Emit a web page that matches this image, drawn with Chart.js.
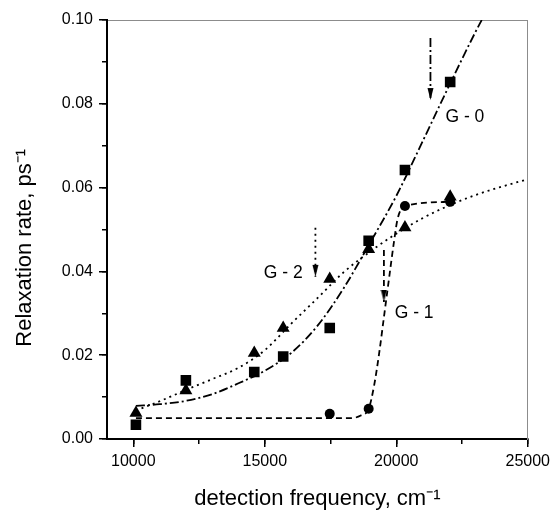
<!DOCTYPE html>
<html>
<head>
<meta charset="utf-8">
<script src="https://cdn.jsdelivr.net/npm/chart.js@4.4.1/dist/chart.umd.min.js"></script>
<style>
  html, body { margin: 0; padding: 0; background: #fff; }
  canvas { display: block; }
</style>
</head>
<body>
<canvas id="relaxChart" width="555" height="510"></canvas>
<script>
'use strict';

/* ── measured rates (ps-1) vs detection frequency (cm-1) ── */
const g0Freq = [10100, 12000, 14600, 15700, 17470, 18950, 20330, 22050];
const g0Rate = [0.0034, 0.0140, 0.0160, 0.0197, 0.0265, 0.0473, 0.0642, 0.0852];

const g2Freq = [10100, 12000, 14600, 15700, 17470, 18950, 20330, 22050];
const g2Rate = [0.0062, 0.0116, 0.0205, 0.0265, 0.0382, 0.0453, 0.0505, 0.0578];

const g1Freq = [17470, 18950, 20330, 22050];
const g1Rate = [0.0060, 0.0072, 0.0556, 0.0566];

/* ── fitted curves ── */
const g0FitFreq = [10100, 11000, 12000, 13000, 14000, 15000, 16000, 17000, 18000, 19000, 20000, 21000, 22000, 23000, 23250];
const g0FitRate = [0.0079, 0.0083, 0.0091, 0.0107, 0.0133, 0.0163, 0.0205, 0.0270, 0.0360, 0.0468, 0.0580, 0.0710, 0.0842, 0.0970, 0.1000];

const g2FitFreq = [10100, 11000, 12000, 13000, 14000, 15000, 16000, 17000, 18000, 19000, 20000, 21000, 22000, 23000, 24000, 25000];
const g2FitRate = [0.0068, 0.0090, 0.0117, 0.0143, 0.0170, 0.0212, 0.0275, 0.0336, 0.0398, 0.0447, 0.0490, 0.0527, 0.0557, 0.0582, 0.0602, 0.0620];

const g1FitFreq = [10100, 18300, 18650, 18950, 19150, 19350, 19550, 19750, 19900, 20050, 20330, 22050];
const g1FitRate = [0.0050, 0.0050, 0.0056, 0.0072, 0.0125, 0.0205, 0.0300, 0.0395, 0.0465, 0.0525, 0.0556, 0.0566];

/* ── arrows and curve labels (G-0, G-2, G-1) ── */
const arrowFreq = [21300, 16925, 19530];
const arrowTop  = [0.0957, 0.0504, 0.0451];
const arrowTip  = [0.0809, 0.0387, 0.0327];

const labelText = ['G - 0', 'G - 2', 'G - 1'];
const labelFreq = [21870, 14960, 19940];
const labelRate = [0.0768, 0.0396, 0.0301];

/* ── axis ticks ── */
const xTicks      = [10000, 15000, 20000, 25000];
const xMinorTicks = [10000, 12500, 15000, 17500, 20000, 22500, 25000];
const yTicks      = [0, 0.02, 0.04, 0.06, 0.08, 0.10];
const yMinorTicks = [0, 0.01, 0.02, 0.03, 0.04, 0.05, 0.06, 0.07, 0.08, 0.09, 0.10];

const FONT = '"Liberation Sans", Arial, sans-serif';
const DASH_DOT = [9, 3, 2, 3];
const DOTTED = [2, 4];
const DASHED = [6, 4];

const toPts = (xs, ys) => xs.map((x, i) => ({ x, y: ys[i] }));

function makeArrowHead() {
    // tip sits at the centre of the canvas so it lands on the data point
    const c = document.createElement('canvas');
    c.width = 7;
    c.height = 26;
    const g = c.getContext('2d');
    g.fillStyle = '#000';
    g.beginPath();
    g.moveTo(0.5, 1);
    g.lineTo(6.5, 1);
    g.lineTo(3.5, 13);
    g.closePath();
    g.fill();
    return c;
}
const arrowHead = makeArrowHead();

function markerSet(xs, ys, style, radius) {
    return {
        data: toPts(xs, ys),
        showLine: false,
        pointStyle: style,
        pointRadius: radius,
        pointBorderWidth: 0,
        pointBackgroundColor: '#000',
        pointBorderColor: '#000',
    };
}

function curveSet(xs, ys, dash) {
    return {
        data: toPts(xs, ys),
        showLine: true,
        borderColor: '#000',
        borderWidth: 1.8,
        borderDash: dash,
        pointRadius: 0,
        cubicInterpolationMode: 'monotone',
    };
}

function arrowSet(i, dash) {
    return {
        data: [{ x: arrowFreq[i], y: arrowTop[i] }, { x: arrowFreq[i], y: arrowTip[i] }],
        showLine: true,
        borderColor: '#000',
        borderWidth: 1.8,
        borderDash: dash,
        pointStyle: ['circle', arrowHead],
        pointRadius: [0, 4],
    };
}

const labelPlugin = {
    id: 'curveLabels',
    afterDatasetsDraw(chart) {
        const { ctx, scales: { x, y } } = chart;
        ctx.save();
        ctx.font = '17.5px ' + FONT;
        ctx.fillStyle = '#000';
        ctx.textAlign = 'left';
        ctx.textBaseline = 'middle';
        labelText.forEach((t, i) => {
            ctx.fillText(t, x.getPixelForValue(labelFreq[i]), y.getPixelForValue(labelRate[i]));
        });
        ctx.restore();
    },
};

const tickFont = { family: FONT, size: 16 };
const titleFont = { family: FONT, size: 22, lineHeight: 1 };
const setTicks = list => scale => { scale.ticks = list.map(v => ({ value: v })); };

new Chart(document.getElementById('relaxChart'), {
    type: 'scatter',
    data: {
        datasets: [
            markerSet(g0Freq, g0Rate, 'rect', 7.5),
            markerSet(g2Freq, g2Rate, 'triangle', 7.5),
            markerSet(g1Freq, g1Rate, 'circle', 5),
            curveSet(g0FitFreq, g0FitRate, DASH_DOT),
            curveSet(g2FitFreq, g2FitRate, DOTTED),
            curveSet(g1FitFreq, g1FitRate, DASHED),
            arrowSet(0, DASH_DOT),
            arrowSet(1, DOTTED),
            arrowSet(2, DASHED),
        ],
    },
    options: {
        responsive: false,
        devicePixelRatio: 1,
        animation: false,
        layout: { padding: { top: 20, right: 24, bottom: 0, left: 0 } },
        plugins: { legend: { display: false }, tooltip: { enabled: false } },
        scales: {
            x: {
                type: 'linear', position: 'bottom', weight: 1, min: 9000, max: 25000,
                afterBuildTicks: setTicks(xTicks),
                afterFit: s => { s.height = 71; },
                ticks: { font: tickFont, color: '#000', padding: 5, maxRotation: 0, autoSkip: false, callback: v => String(v) },
                grid: { drawOnChartArea: false, tickLength: 8, color: '#000', lineWidth: 1.5 },
                border: { color: '#000', width: 2 },
                title: { display: true, text: 'detection frequency, cm⁻¹', font: titleFont, color: '#000', padding: 0 },
            },
            xMinor: {
                type: 'linear', position: 'bottom', weight: 0, min: 9000, max: 25000,
                afterBuildTicks: setTicks(xMinorTicks),
                afterFit: s => { s.height = 0; },
                ticks: { display: false },
                grid: { drawOnChartArea: false, tickLength: 5, color: '#000', lineWidth: 1.5 },
                border: { display: false },
            },
            xTop: {
                type: 'linear', position: 'top', min: 9000, max: 25000,
                afterFit: s => { s.height = 0; },
                ticks: { display: false },
                grid: { display: false },
                border: { color: '#8c8c8c', width: 1 },
            },
            y: {
                type: 'linear', position: 'left', weight: 1, min: 0, max: 0.1,
                afterBuildTicks: setTicks(yTicks),
                afterFit: s => { s.width = 107; },
                ticks: { font: tickFont, color: '#000', padding: 6, autoSkip: false, callback: v => v.toFixed(2) },
                grid: { drawOnChartArea: false, tickLength: 8, color: '#000', lineWidth: 1.5 },
                border: { color: '#000', width: 2 },
                title: { display: true, text: 'Relaxation rate, ps⁻¹      ', font: titleFont, color: '#000', padding: { top: 14, bottom: 0 } },
            },
            yMinor: {
                type: 'linear', position: 'left', weight: 0, min: 0, max: 0.1,
                afterBuildTicks: setTicks(yMinorTicks),
                afterFit: s => { s.width = 0; },
                ticks: { display: false },
                grid: { drawOnChartArea: false, tickLength: 5, color: '#000', lineWidth: 1.5 },
                border: { display: false },
            },
            yRight: {
                type: 'linear', position: 'right', min: 0, max: 0.1,
                afterFit: s => { s.width = 0; },
                ticks: { display: false },
                grid: { display: false },
                border: { color: '#8c8c8c', width: 1 },
            },
        },
    },
    plugins: [labelPlugin],
});
</script>
</body>
</html>
